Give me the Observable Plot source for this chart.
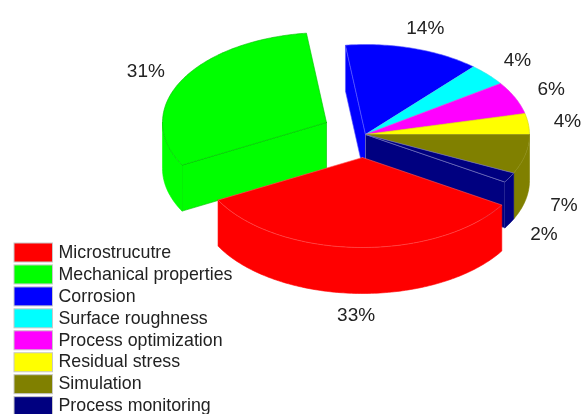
<!DOCTYPE html>
<html><head><meta charset="utf-8">
<style>html,body{margin:0;padding:0;background:#fff;overflow:hidden}svg{display:block;filter:blur(.45px)}</style>
<script src="https://cdn.jsdelivr.net/npm/d3@7"></script>
<script src="https://cdn.jsdelivr.net/npm/@observablehq/plot@0.6"></script>
</head><body><script>
// Data, in legend order (slices run clockwise in this order)
const categories = ["Microstrucutre","Mechanical properties","Corrosion","Surface roughness","Process optimization","Residual stress","Simulation","Process monitoring"];
const shares = [33.3,30.9,13.4,3.95,5.85,3.75,7.05,1.8];       // slice sizes as measured, %
const labels = ["33%","31%","14%","4%","6%","4%","7%","2%"];    // printed labels
const pullX = [-3,-39,0,0,0,0,0,0];
const pullY = [23,-12,0,0,0,0,0,0];
const colors = ["#ff0000","#00ff00","#0000ff","#00ffff","#ff00ff","#ffff00","#808000","#000080"];
const edges  = ["#ff5a5a","#00c000","#5c5cff","#40e0e0","#e040e0","#d8d800","#8f8f1a","#7878c0"];
const paintOrder = [2,3,4,5,6,7,1,0];

// Layout of the pseudo-3D pie
const W = 581, H = 414;
const cx = 365, cy = 134, rx = 164, ry = 90, depth = 46, startAngle = 328.14, labelK = 1.24;
const rad = d => d * Math.PI / 180;
const pulled = i => pullX[i] !== 0 || pullY[i] !== 0;

let a = startAngle;
const slices = categories.map((name,i) => {
  const a1 = a, a0 = a - shares[i]*3.6; a = a0;
  const mid = rad((a0+a1)/2);
  return {i,name,a0,a1,mid,ox:cx+pullX[i],oy:cy+pullY[i]};
});
const pt = (s,d,drop=0) => ({x:s.ox+rx*Math.cos(rad(d)), y:s.oy-ry*Math.sin(rad(d))+drop});
const arc = (s,lo,hi,drop=0) => {
  const n = Math.max(2,Math.ceil(hi-lo)), out=[];
  for(let k=0;k<=n;k++) out.push(pt(s,lo+(hi-lo)*k/n,drop));
  return out;
};
const rows = [];
const poly = (s,part,pts,stroke) => {
  const id = s.name+part;
  [...pts,pts[0]].forEach(p => rows.push({...p,id,fill:colors[s.i],stroke}));
};
for (const i of paintOrder) {
  const s = slices[i];
  const v = {x:s.ox,y:s.oy}, vd = {x:s.ox,y:s.oy+depth};
  // radial walls facing the viewer, where the neighbour is pulled away
  if (Math.cos(rad(s.a1))<0 && (pulled(i)||pulled((i+7)%8)))
    poly(s,"r1",[v,pt(s,s.a1),pt(s,s.a1,depth),vd],edges[i]);
  if (Math.cos(rad(s.a0))>0 && (pulled(i)||pulled((i+1)%8)))
    poly(s,"r0",[v,pt(s,s.a0),pt(s,s.a0,depth),vd],edges[i]);
  // outer wall: the part of the rim on the near half
  const lo = s.a1<=0.001 ? s.a0 : Math.max(s.a0,180), hi = s.a1;
  if (hi>lo) poly(s,"w",[...arc(s,lo,hi),...arc(s,lo,hi,depth).reverse()],colors[i]);
  // top face
  poly(s,"t",[v,...arc(s,s.a0,s.a1)],edges[i]);
}
const labelRows = slices.map(s => {
  const near = Math.sin(s.mid)<0;
  return {t:labels[s.i], x:s.ox+labelK*rx*Math.cos(s.mid), y:s.oy-labelK*ry*Math.sin(s.mid)+(near?depth:0)};
});
// Legend
const legTop = 243, legStep = 21.95, swH = 19, swX1 = 14, swX2 = 52.5, txtX = 58;
const legend = categories.map((name,i)=>({name,color:colors[i],y1:legTop+i*legStep,y2:legTop+i*legStep+swH,ym:legTop+i*legStep+swH/2-1}));

const chart = Plot.plot({
  width:W,height:H,margin:0,
  x:{domain:[0,W],range:[0,W],axis:null},
  y:{domain:[0,H],range:[0,H],axis:null},
  color:{type:"identity"},
  style:{background:"#fff",fontFamily:"'Liberation Sans',Arial,sans-serif"},
  marks:[
    Plot.line(rows,{x:"x",y:"y",z:"id",fill:"fill",stroke:"stroke",strokeWidth:0.6,curve:"linear"}),
    Plot.text(labelRows,{x:"x",y:"y",text:"t",fontSize:19,fill:"#222"}),
    Plot.rect(legend,{x1:()=>swX1,x2:()=>swX2,y1:"y1",y2:"y2",fill:"color",stroke:"#c8c8c8",strokeWidth:1}),
    Plot.text(legend,{x:()=>txtX,y:"ym",text:"name",textAnchor:"start",fontSize:17.8,fill:"#222"})
  ]
});
document.body.appendChild(chart);
</script></body></html>
